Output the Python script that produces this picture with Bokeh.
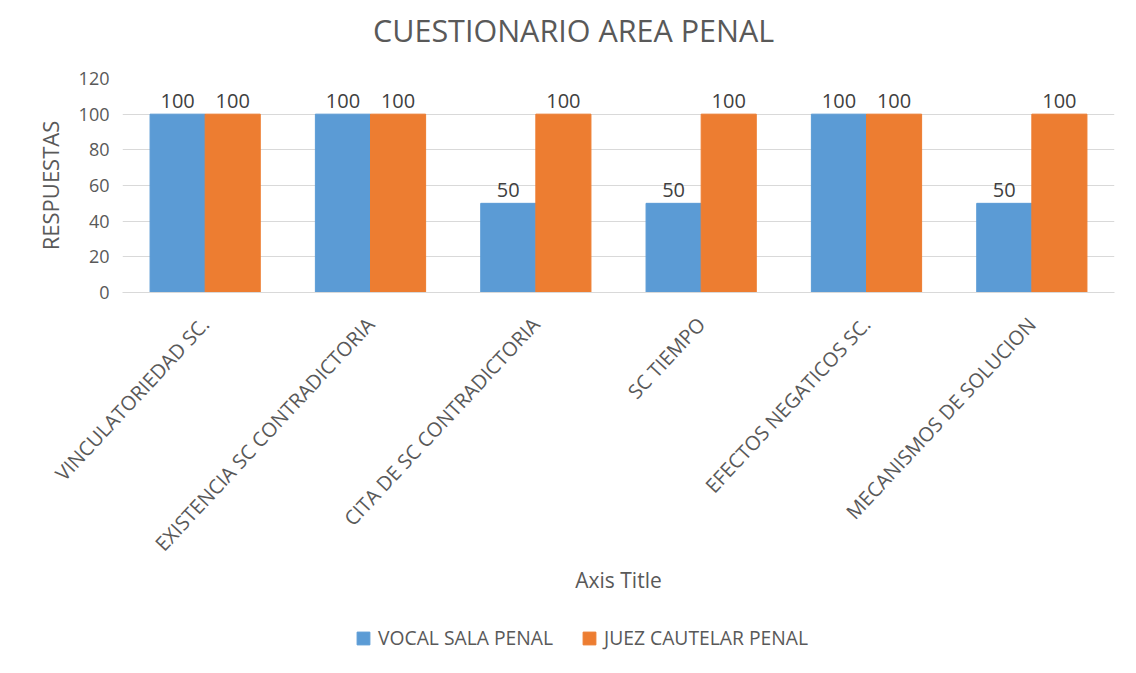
import math
from bokeh.plotting import figure
from bokeh.layouts import column
from bokeh.models import (ColumnDataSource, FactorRange, Range1d, Legend,
                          LegendItem, Div)
from bokeh.transform import dodge
from bokeh.core.properties import value
from bokeh.embed import file_html
from bokeh.resources import INLINE

categories = ["VINCULATORIEDAD SC.", "EXISTENCIA SC CONTRADICTORIA",
              "CITA DE SC CONTRADICTORIA", "SC TIEMPO",
              "EFECTOS NEGATICOS SC.", "MECANISMOS DE SOLUCION"]
vocal_sala = [100, 100, 50, 50, 100, 50]
juez_cautelar = [100, 100, 100, 100, 100, 100]
series_names = ["VOCAL SALA PENAL", "JUEZ CAUTELAR PENAL"]
y_ticks = [0, 20, 40, 60, 80, 100, 120]
chart_title = "CUESTIONARIO AREA PENAL"

FONT = "Open Sans"
GREY = "#595959"
BLUE = "#5B9BD5"
ORANGE = "#ED7D31"
W = 1124

src = ColumnDataSource(dict(
    cat=categories,
    vocal=vocal_sala,
    juez=juez_cautelar,
    vocal_lbl=[str(v) for v in vocal_sala],
    juez_lbl=[str(v) for v in juez_cautelar],
))

# ---- title -----------------------------------------------------------
title_div = Div(
    text=(f'<div style="font-family:\'{FONT}\';font-size:30.5px;color:{GREY};'
          f'line-height:50px;height:50px;padding-left:368px;white-space:nowrap;">'
          f'{chart_title}</div>'),
    width=W, height=56)

# ---- main chart --------------------------------------------------------
p = figure(x_range=FactorRange(*categories), y_range=Range1d(0, 120),
           frame_width=992, frame_height=214, output_backend="svg",
           toolbar_location=None,
           min_border_left=122, min_border_right=10, min_border_top=12,
           min_border_bottom=320)

p.outline_line_color = None
p.background_fill_color = "white"
p.border_fill_color = "white"

p.yaxis.ticker = y_ticks
p.yaxis.axis_line_color = None
p.yaxis.major_tick_line_color = None
p.yaxis.minor_tick_line_color = None
p.yaxis.major_tick_out = 0
p.yaxis.major_tick_in = 0
p.yaxis.major_label_standoff = 13
p.yaxis.major_label_text_font = FONT
p.yaxis.major_label_text_font_size = "18px"
p.yaxis.major_label_text_color = GREY
p.yaxis.axis_label = "RESPUESTAS"
p.yaxis.axis_label_text_font = FONT
p.yaxis.axis_label_text_font_size = "22px"
p.yaxis.axis_label_text_font_style = "normal"
p.yaxis.axis_label_text_color = GREY
p.yaxis.axis_label_standoff = 11

p.xaxis.axis_line_color = "#d9d9d9"
p.xaxis.major_tick_line_color = None
p.xaxis.minor_tick_line_color = None
p.xaxis.major_tick_out = 0
p.xaxis.major_tick_in = 0
p.xaxis.major_label_orientation = math.radians(47)
p.xaxis.major_label_standoff = 28
p.xaxis.major_label_text_font = FONT
p.xaxis.major_label_text_font_size = "20px"
p.xaxis.major_label_text_color = GREY
p.xaxis.axis_label = "Axis Title"
p.xaxis.axis_label_text_font = FONT
p.xaxis.axis_label_text_font_size = "21px"
p.xaxis.axis_label_text_font_style = "normal"
p.xaxis.axis_label_text_color = GREY
p.xaxis.axis_label_standoff = -3

p.xgrid.grid_line_color = None
p.ygrid.grid_line_color = "#d9d9d9"
p.ygrid.grid_line_width = 1

p.vbar(x=dodge("cat", -1/6, range=p.x_range), top="vocal", width=1/3,
       source=src, fill_color=BLUE, line_color=BLUE)
p.vbar(x=dodge("cat", 1/6, range=p.x_range), top="juez", width=1/3,
       source=src, fill_color=ORANGE, line_color=ORANGE)

for xoff, col in ((-1/6, "vocal"), (1/6, "juez")):
    p.text(x=dodge("cat", xoff, range=p.x_range), y=col, text=col + "_lbl",
           source=src, text_align="center", text_baseline="bottom",
           y_offset=-6, text_font=value(FONT), text_font_size="20px",
           text_color="#404040")

# ---- legend strip --------------------------------------------------------
lg = figure(width=W, height=56, x_range=Range1d(0, 1), y_range=Range1d(0, 1),
            output_backend="svg", toolbar_location=None, min_border=0,
            min_border_left=0, min_border_right=0, min_border_top=0,
            min_border_bottom=0)
lg.axis.visible = False
lg.grid.visible = False
lg.outline_line_color = None
# legend swatches only: same series, hidden renderers (the bars are drawn above)
lr1 = lg.vbar(x="vocal", top="vocal", width=1/3, source=src,
              fill_color=BLUE, line_color=BLUE, visible=False)
lr2 = lg.vbar(x="juez", top="juez", width=1/3, source=src,
              fill_color=ORANGE, line_color=ORANGE, visible=False)

legend = Legend(items=[LegendItem(label=series_names[0], renderers=[lr1]),
                       LegendItem(label=series_names[1], renderers=[lr2])],
                orientation="horizontal", location=(233, 17))
legend.label_text_font = FONT
legend.label_text_font_size = "19.3px"
legend.label_text_color = GREY
legend.glyph_width = 16
legend.glyph_height = 16
legend.spacing = 28
legend.label_standoff = 7
legend.padding = 10
legend.margin = 0
legend.border_line_color = None
legend.background_fill_alpha = 0
lg.add_layout(legend, "center")

layout = column(title_div, p, lg, spacing=0)

open("out.html", "w").write(file_html(layout, INLINE))
